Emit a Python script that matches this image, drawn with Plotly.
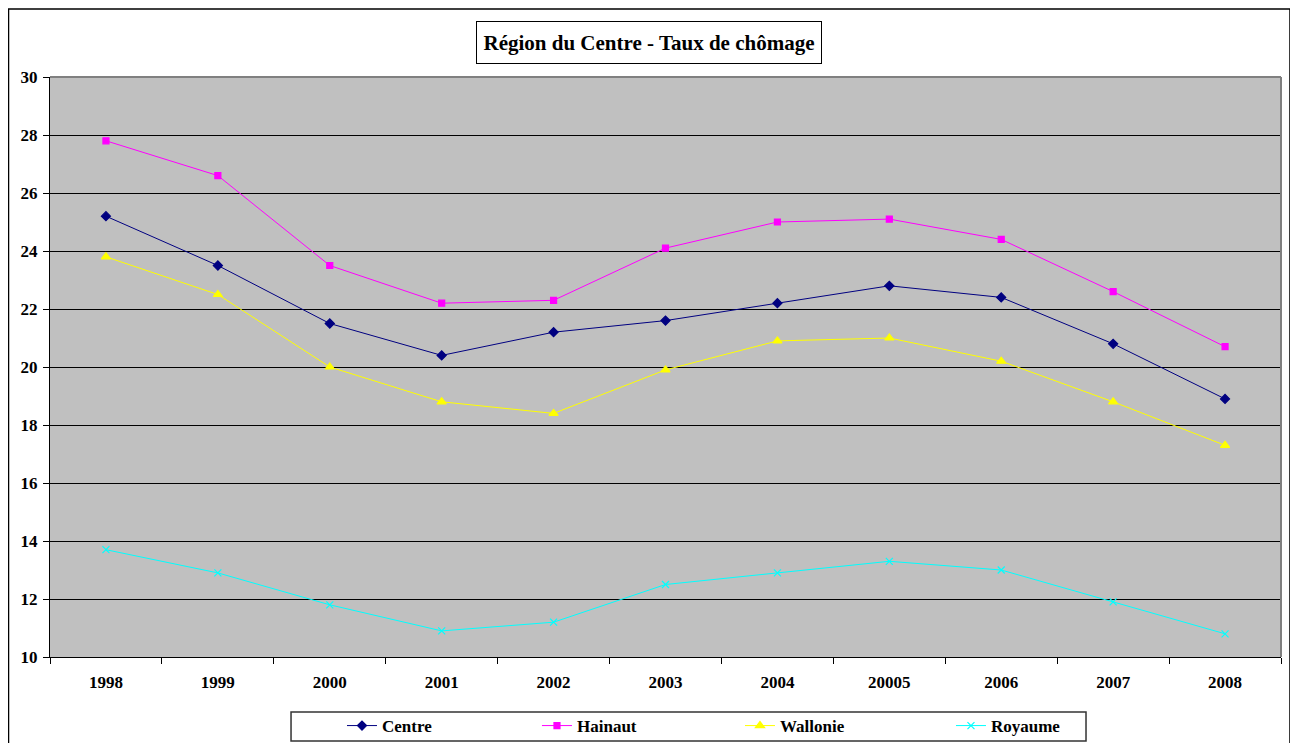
import plotly.graph_objects as go

years = ["1998", "1999", "2000", "2001", "2002", "2003", "2004", "20005", "2006", "2007", "2008"]
centre = [25.2, 23.5, 21.5, 20.4, 21.2, 21.6, 22.2, 22.8, 22.4, 20.8, 18.9]
hainaut = [27.8, 26.6, 23.5, 22.2, 22.3, 24.1, 25.0, 25.1, 24.4, 22.6, 20.7]
wallonie = [23.8, 22.5, 20.0, 18.8, 18.4, 19.9, 20.9, 21.0, 20.2, 18.8, 17.3]
royaume = [13.7, 12.9, 11.8, 10.9, 11.2, 12.5, 12.9, 13.3, 13.0, 11.9, 10.8]

series = [
    ("Centre", centre, "#000080", "diamond", 7, "legend", 0.2372),
    ("Hainaut", hainaut, "#FF00FF", "square", 6, "legend2", 0.3956),
    ("Wallonie", wallonie, "#FFFF00", "triangle-up", 8, "legend3", 0.5605),
    ("Royaume", royaume, "#00FFFF", "x-thin-open", 7, "legend4", 0.7319),
]

FONT = "Liberation Serif"
legend_font = dict(family=FONT, size=17, color="black", weight="bold")

fig = go.Figure()
legends = {}
for name, vals, color, sym, size, lg, lx in series:
    fig.add_trace(go.Scatter(
        x=years, y=vals, name=name, mode="lines+markers", legend=lg,
        line=dict(color=color, width=1),
        marker=dict(symbol=sym, size=size, color=color, line=dict(color=color, width=1.2)),
    ))
    legends[lg] = dict(
        orientation="h", x=lx, xanchor="left", y=-0.119, yanchor="middle",
        bgcolor="rgba(0,0,0,0)", borderwidth=0, font=legend_font,
    )

fig.update_layout(
    width=1290, height=735,
    margin=dict(l=42, r=17, t=69, b=86, autoexpand=False),
    paper_bgcolor="white",
    plot_bgcolor="#C0C0C0",
    font=dict(family=FONT, size=17, color="black"),
    showlegend=True,
    xaxis=dict(
        type="category", range=[-0.5, len(years) - 0.5],
        showgrid=False, showline=True, linecolor="black", linewidth=1,
        ticks="outside", tickson="boundaries", ticklen=6, tickcolor="black",
        tickfont=dict(family=FONT, size=17, color="black", weight="bold"),
        ticklabelstandoff=10,
    ),
    yaxis=dict(
        range=[10, 30], dtick=2, showgrid=True, gridcolor="black", gridwidth=1,
        showline=True, linecolor="black", linewidth=1, zeroline=False,
        ticks="outside", ticklen=6, tickcolor="black",
        tickfont=dict(family=FONT, size=17, color="black", weight="bold"),
        ticklabelstandoff=2,
    ),
    shapes=[
        dict(type="line", xref="paper", yref="paper", x0=0, x1=1, y0=1, y1=1,
             line=dict(color="#808080", width=2)),
        dict(type="line", xref="paper", yref="paper", x0=1, x1=1, y0=0, y1=1,
             line=dict(color="#808080", width=2)),
        dict(type="rect", xref="paper", yref="paper", x0=-0.0337, x1=1.0073,
             y0=-0.2, y1=1.1172, line=dict(color="black", width=1.5), layer="below"),
        dict(type="rect", xref="paper", yref="paper", x0=0.1958, x1=0.8416,
             y0=-0.1448, y1=-0.0948, line=dict(color="#333333", width=1.5),
             fillcolor="white", layer="below"),
    ],
    annotations=[
        dict(text="<b>Région du Centre - Taux de chômage</b>", xref="paper", yref="paper",
             x=0.4862, y=1.0595, xanchor="center", yanchor="middle", showarrow=False,
             font=dict(family=FONT, size=21, color="black"),
             width=332, height=29,
             bordercolor="black", borderwidth=1, borderpad=6, bgcolor="white"),
    ],
    **legends,
)

fig.write_html("out.html")
